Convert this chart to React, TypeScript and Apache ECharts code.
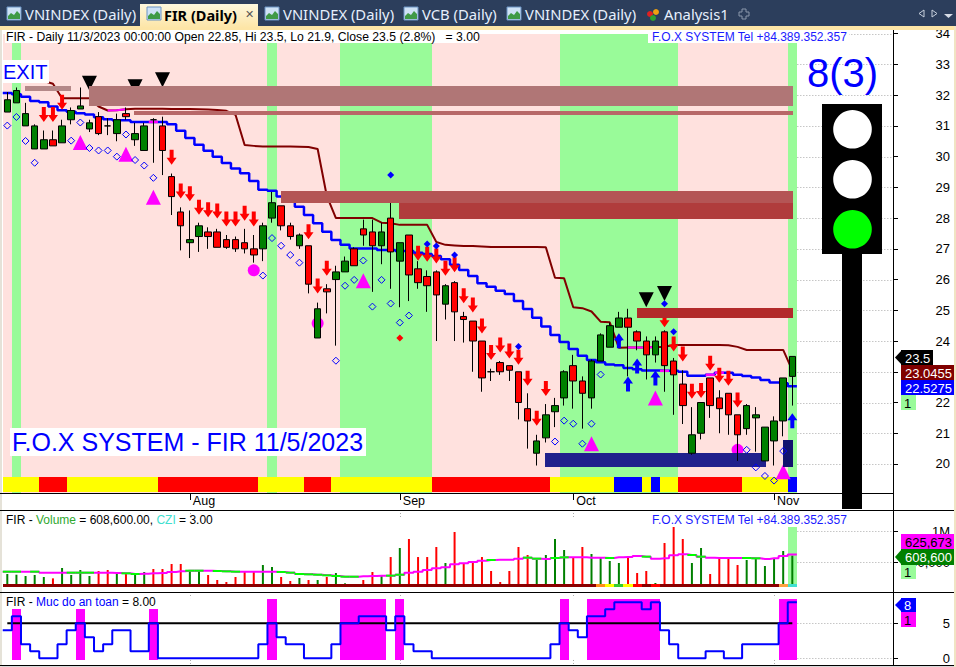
import React, { useEffect, useRef } from "react";
import * as echarts from "echarts";

const FONT = '"Liberation Sans", Arial, sans-serif';
const TAB_FONT = '"Noto Sans", sans-serif';

// [open, close, low, high]
const candles: number[][] = [
  [31.45,31.85,31.45,32.1],[31.75,32.15,31.75,32.25],[31,31.4,31,31.75],[30.25,31,30.25,31.05],[30.25,30.55,30.25,30.85],
  [30.55,30.35,30.35,30.85],[30.45,31,30.45,31.2],[31.2,31.5,31.05,31.6],[31.55,31.65,31.55,32.25],[30.9,31.1,30.8,31.2],
  [31.3,30.75,30.7,31.45],[31,31,30.7,31.25],[30.75,31.2,30.5,31.4],[31.4,31.3,31.2,31.6],[30.55,30.75,30.35,31.1],
  [30.2,31,30.2,31.1],[31.2,31.2,29.8,31.25],[31,30.2,29.4,31.3],[29.35,28.7,28.1,29.45],[28.2,27.75,26.95,28.35],
  [27.2,27.3,26.7,28.25],[27.4,27.75,26.9,27.85],[27.55,27.4,27,27.7],[27.55,27.05,27.05,27.65],[27.3,27.05,27,27.45],
  [27.3,27,26.9,27.4],[27.2,27,26.85,27.65],[27,26.8,26.55,27.45],[27,27.75,26.6,27.85],[28,28.5,27.85,28.85],
  [28.4,27.75,27.6,28.4],[27.75,27.4,27.3,27.85],[27.1,27.45,27,27.5],[27.1,25.85,25.55,27.1],[24.1,25.05,24.1,25.25],
  [25.7,25.6,24.9,25.85],[26,26.25,23.85,26.45],[26.25,26.6,26.25,26.75],[27,26.45,26.45,27.05],[27.65,27.45,27.1,27.95],
  [27.55,27.1,25.6,27.95],[27.1,27.55,26.5,27.85],[28,26.9,25.7,28.55],[26.6,27.2,25.1,27.2],[27.45,26.15,25.3,27.45],
  [26.35,25.9,25.7,26.6],[26.1,25.8,24.95,26.3],[26.25,25.5,24,26.3],[25.2,25.8,24.7,25.85],[25.9,24.95,24,25.95],
  [24.8,24.7,23.95,24.95],[24.65,24,23,24.65],[24,22.8,22.35,24],[23,23,22.7,23.1],[23.3,23,22.9,23.35],
  [23.2,23.05,22.7,23.2],[23,22,21.45,23],[21.8,21.4,20.5,22.3],[20.35,20.75,19.95,20.95],[20.85,21.6,20.7,21.95],
  [21.7,21.9,21.2,22.15],[22.15,23,21.9,23.05],[23.2,22.7,21.8,23.55],[22.7,22.3,21.15,22.85],[22.15,23.35,21.8,23.4],
  [23.35,24.2,23.35,24.25],[23.8,24.5,23.8,24.6],[24.45,24.75,24.45,24.95],[24.75,24.45,22.85,25.05],[24.3,24,23.7,24.35],
  [24,23.55,22.75,24.15],[23.55,24,23.3,24.15],[24.3,23.2,22.35,24.35],[23.35,22.9,21.6,23.45],[22.6,21.9,21.3,23.05],
  [20.35,20.95,20.3,21.85],[21,22,20.8,22],[22.8,21.9,21.5,22.8],[22.15,21.8,21,22.4],[22.3,21.6,20.95,22.3],
  [21.6,20.95,20.1,21.6],[21.15,21.9,20.95,21.95],[21.5,21.6,20.4,21.85],[20.1,21.2,20.1,21.2],[20.75,21.4,19.95,21.55],
  [21.4,22.8,20.9,22.8],[22.85,23.5,21.9,23.5],
];

const blueStop = [
  32.07,32.03,31.95,31.81,31.77,31.63,31.51,31.46,31.41,31.37,31.28,31.22,31.18,31.18,31.13,31.13,31.13,31.13,31.05,30.84,
  30.61,30.39,30.19,30,29.79,29.61,29.46,29.21,28.92,28.89,28.7,28.59,28.37,28.1,27.83,27.56,27.29,27.13,27.01,27.01,
  27.01,26.96,26.96,26.93,26.93,26.87,26.83,26.77,26.66,26.48,26.31,26.12,25.88,25.77,25.64,25.53,25.3,25.04,24.76,24.47,
  24.2,23.97,23.74,23.52,23.38,23.31,23.24,23.21,23.12,23.08,23.04,23.04,23.03,23.03,23,22.87,22.87,22.9,22.97,22.97,
  22.9,22.86,22.81,22.73,22.65,22.63,22.5275,
];
const maroonLine = [
  32.46,32.46,32.46,32.46,32.46,32.37,31.9,31.9,31.9,31.9,31.63,31.5,31.51,31.54,31.56,31.56,31.56,31.56,31.55,31.55,
  31.55,31.54,31.53,31.52,31.49,31.36,30.38,30.35,30.33,30.33,30.33,30.33,30.32,30.31,30.25,28.72,28,28,28,28,
  28,27.85,27.83,27.78,27.78,27.78,27.78,27.22,27.13,27.11,27.09,27.09,27.08,27.06,27.06,27.06,27.06,27.06,27.06,27.05,
  26.06,26.04,25.1,25.07,24.96,24.63,24.61,23.78,23.79,23.79,23.79,23.81,23.81,23.87,23.87,23.87,23.87,23.87,23.87,23.86,
  23.81,23.71,23.71,23.71,23.71,23.71,23.0455,
];
const blueHighlightBars = [16, 72, 77, 78];
const maroonHighlightRanges = [[11, 13], [68, 69], [70, 71]];

const greenBandRanges = [[1, 1], [29, 29], [37, 46], [61, 73], [86, 86]];
const stripRuns: [string, number, number][] = [
  ["#ffff00",0,3],["#ff0000",4,6],["#ffff00",7,16],["#ff0000",17,27],["#ffff00",28,32],["#ff0000",33,35],["#ffff00",36,46],
  ["#ff0000",47,59],["#ffff00",60,66],["#0000ff",67,69],["#ffff00",70,70],["#0000ff",71,71],["#ffff00",72,73],["#ff0000",74,80],
  ["#ffff00",81,85],["#0000ff",86,86],
];

const hollowDiamonds = [
  [0,31.01],[1,31.29],[2,30.51],[3,29.8],[7,30.52],[8,31.11],[9,30.28],[10,30.2],[11,30.2],[12,30],[13,30.72],[14,29.89],[15,29.71],[16,29.31],
  [28,26.13],[29,27.35],[30,27.1],[31,26.8],[32,26.55],[36,23.36],[37,25.8],[38,25.99],[39,26.62],[40,25.12],[41,25.99],[42,25.22],[43,24.6],[44,24.83],
  [60,20.73],[61,21.41],[62,21.31],[63,20.66],[64,21.31],[65,22.91],[81,20.46],[82,19.89],[83,19.61],[84,19.46],[85,20.42],
];
const solidBlueDiamonds = [[42,29.4],[46,27.16],[47,27.09],[49,26.8],[56,23.82],[67,24.04],[72,25.21],[73,24.3]];
const solidRedDiamonds = [[43,24.1]];
const redDownArrows = [
  [4,31.37],[5,31.37],[6,31.77],[18,29.98],[19,28.88],[20,28.79],[21,28.35],[22,28.27],[23,28.23],[24,27.97],[25,27.97],[26,28.16],[27,27.97],
  [33,27.56],[34,25.79],[35,26.37],[45,26.86],[46,26.82],[47,26.77],[48,26.37],[49,26.48],[50,25.47],[51,25.17],[52,24.49],[53,23.63],[54,23.87],
  [55,23.68],[56,23.47],[57,22.79],[58,21.49],[59,22.46],[72,24.69],[73,23.9],[74,23.58],[75,22.37],[76,22.39],[77,23.28],[78,22.89],[79,22.79],[80,22.08],
];
const blueUpArrows = [[67,24.01],[68,22.6],[69,23.19],[71,22.8],[86,21.41]];
const magentaTriangles = [[8,30.46],[13,30.08],[16,28.68],[39,25.96],[64,20.66],[71,22.15],[85,19.75]];
const magentaCircles = [[27,26.3],[34,24.58],[80,20.46]];
const blackTriangles = [[9,32.39],[14,32.27],[17,32.5],[70,25.34],[72,25.55]];

// [firstBar, lastBar, priceTop, priceBottom]
const upperZones = [
  [1.94,6.95,32.3,32.15],[8.95,86.1,32.3,31.65],[13.88,86.1,31.49,31.36],[42.9,86.1,28.59,27.97],[30,86.1,28.88,28.49],[68.95,86.1,25.08,24.75],
];
const upperZoneColors = ["#b48888","#b07676","#b86868","#b03c3c","#b45555","#b22a2a"];
const lowerZones = [[58.9,83.1,20.37,19.91],[84.98,86.1,20.78,19.91]];
const lowerZoneColors = ["#20208c","#12126e"];

const priceTicks = [20,21,22,23,24,25,26,27,28,29,30,31,32,33,34];
const priceLabels = [20,21,22,24,25,26,27,28,29,30,31,32,33,34];
const monthTicks = [20,43,62,84];
const monthNames = ["Aug","Sep","Oct","Nov"];

const volumes = [
  311,300,279,295,263,241,408,295,376,279,360,376,327,311,311,344,392,392,473,473,360,360,295,215,182,263,360,344,456,424,
  263,198,247,215,215,263,327,161,134,215,344,279,585,731,876,585,585,747,489,989,473,505,585,360,182,360,747,618,542,618,
  876,698,575,747,634,569,521,489,602,327,360,166,811,1069,876,489,731,311,569,553,456,537,569,440,553,682,608.6,
];
const volumeMA = [
  349,349,349,349,333,333,333,333,333,333,333,333,327,322,311,316,322,327,344,354,365,365,365,360,354,349,349,349,349,349,
  344,333,311,306,300,290,279,268,268,274,279,285,285,300,333,349,376,403,419,467,484,505,526,537,542,542,559,575,559,553,
  569,580,580,580,575,575,569,580,586,602,591,559,564,612,629,618,591,575,569,569,569,569,564,553,564,602,625.673,
];
const volumeMAGreenBars = [0,1,3,7,8,9,13,14,20,21,23,24,25,30,31,32,33,34,35,36,37,38,42,43,53,57,58,60,61,66,70,75,76,81,82];
const stripVolumeSpecial: [number,string][] = [[65,"#ff8c1a"],[66,"#ffff00"],[67,"#33cc33"],[68,"#ffff00"],[69,"#ff0000"],[71,"#ff0000"],[85,"#ffa040"],[86,"#40e0d0"]];
const volumeTicks = [500000, 1000000];

const safety = [
  4,6,2,1,0,0,2,4,5,3,1,2,4,4,1,1,5,0,0,0,0,0,0,0,0,0,0,0,2,5,3,2,2,0,0,0,2,5,5,6,6,6,4,6,2,1,1,0,0,0,0,0,0,0,0,0,0,0,0,0,
  2,5,4,3,6,6,7,8,8,8,7,8,4,2,0,0,0,1,1,0,0,2,2,2,2,5,8,
];
const safetyBlocks = [
  [1,1,7.05],[8,8,7.05],[16,16,7.05],[29,29,8.48],[37,41,8.48],[43,43,8.48],[61,61,8.48],[64,71,8.48],[85,86,8.48],
];
const safetyTicks = [0,5];
const safetyThreshold = 5;

const headerText = "FIR - Daily 11/3/2023 00:00:00 Open 22.85, Hi 23.5, Lo 21.9, Close 23.5 (2.8%)   = 3.00";
const foxText = "F.O.X SYSTEM Tel +84.389.352.357";
const titleText = "F.O.X SYSTEM - FIR 11/5/2023";

const X_MIN = -0.471, X_MAX = 97.03, LAST = candles.length - 1;

function fromRanges(ranges: number[][]) {
  const out: number[] = [];
  ranges.forEach(([a, b]) => { for (let i = a; i <= b; i++) out.push(i); });
  return out;
}
function rectItem(api: any, x0: number, x1: number, p0: number, p1: number, fill: string) {
  const a = api.coord([x0, p0]), b = api.coord([x1, p1]);
  const x = Math.round(a[0]), y = Math.round(a[1]);
  return { type: "rect", shape: { x, y, width: Math.round(b[0]) - x, height: Math.round(b[1]) - y }, style: { fill } };
}
function rectSeries(idx: number, z: number, rows: number[][], colors: (i: number) => string) {
  return {
    type: "custom", xAxisIndex: idx, yAxisIndex: idx, z, clip: false, silent: true, data: rows,
    renderItem: (p: any, api: any) => rectItem(api, api.value(0), api.value(1), api.value(2), api.value(3), colors(p.dataIndex)),
  };
}
function segmentSeries(idx: number, z: number, rows: number[][], color: string, width: number) {
  return {
    type: "custom", xAxisIndex: idx, yAxisIndex: idx, z, clip: false, silent: true, data: rows,
    renderItem: (_: any, api: any) => {
      const a = api.coord([api.value(0) - 0.5, api.value(1)]), b = api.coord([api.value(0) + 0.5, api.value(1)]);
      return { type: "line", shape: { x1: a[0], y1: a[1], x2: b[0], y2: b[1] }, style: { stroke: color, lineWidth: width } };
    },
  };
}
function gridDots(idx: number, ticks: number[]) {
  return {
    type: "custom", xAxisIndex: idx, yAxisIndex: idx, z: 0, clip: false, silent: true, data: ticks.map((t) => [LAST, t]),
    renderItem: (_: any, api: any) => {
      const a = api.coord([LAST + 0.55, api.value(1)]), b = api.coord([X_MAX, api.value(1)]);
      const y = Math.round(a[1]) + 0.5;
      return { type: "line", shape: { x1: a[0], y1: y, x2: b[0], y2: y }, style: { stroke: "#aaaaaa", lineWidth: 1, lineDash: [1, 2] } };
    },
  };
}
// short dotted stubs of the month gridlines that show at the pane edges
function monthStubs(idx: number, top: number, bottom: number) {
  return {
    type: "custom", xAxisIndex: idx, yAxisIndex: idx, z: 0, clip: false, silent: true, data: monthTicks.map((m) => [m, top, bottom]),
    renderItem: (_: any, api: any) => {
      const a = api.coord([api.value(0), api.value(1)]), b = api.coord([api.value(0), api.value(2)]);
      const x = Math.round(a[0]) + 0.5;
      return { type: "line", shape: { x1: x, y1: a[1], x2: x, y2: b[1] }, style: { stroke: "#aaaaaa", lineWidth: 1, lineDash: [1, 2] } };
    },
  };
}
function stepData(v: number[]) {
  return [[-0.5, v[0]], ...v.map((y, i) => [i, y]), [LAST + 0.5, v[LAST]]];
}
function xAxis(gridIndex: number, show: boolean) {
  return {
    type: "value", gridIndex, min: X_MIN, max: X_MAX, show, splitLine: { show: false },
    axisLine: { show: true, onZero: false, lineStyle: { color: "#000", width: 1 } },
    axisTick: { show: true, length: 7, customValues: monthTicks, lineStyle: { color: "#000" } },
    axisLabel: {
      customValues: monthTicks, align: "left", margin: 1, padding: [0, 0, 0, 3], color: "#000", fontFamily: FONT, fontSize: 12.5,
      formatter: (v: number) => monthNames[monthTicks.indexOf(v)] ?? "",
    },
  };
}
function yAxis(gridIndex: number, min: number, max: number, ticks: number[], labels: number[], fmt: (v: number) => string) {
  return {
    type: "value", gridIndex, position: "right", min, max, scale: true, splitLine: { show: false },
    axisLine: { show: true, onZero: false, lineStyle: { color: "#000", width: 1 } },
    axisTick: { show: true, length: 5, customValues: ticks, lineStyle: { color: "#000" } },
    axisLabel: { customValues: labels, align: "right", margin: 57, color: "#000", fontFamily: FONT, fontSize: 13, formatter: fmt },
  };
}
function label(x: number, y: number, text: any, extra: any = {}) {
  return {
    type: "text", x, y, z: 100,
    style: { text, fill: "#000", fontFamily: FONT, fontSize: 12, textVerticalAlign: "middle", ...extra },
  };
}
function box(x: number, y: number, width: number, height: number, fill: string) {
  return { type: "rect", z: 99, shape: { x, y, width, height }, style: { fill } };
}
function badge(y: number, h: number, fill: string, text: string, color: string, arrow: boolean, right = 954) {
  const els: any[] = [box(901, y, right - 901, h, fill)];
  if (arrow) els.push({ type: "polygon", z: 99, shape: { points: [[895, y + h / 2], [902, y], [902, y + h]] }, style: { fill } });
  els.push(label(right < 920 ? 904 : 905, y + h / 2 + 0.5, text, { fill: color, fontSize: 13 }));
  return els;
}
function chartIcon(x: number) {
  return [
    { type: "rect", z: 99, shape: { x, y: 7, width: 14, height: 13 }, style: { fill: "#cfe2f6", stroke: "#6a93c4", lineWidth: 1 } },
    { type: "polygon", z: 99, shape: { points: [[x + 1, 19], [x + 1, 16], [x + 4, 13], [x + 7, 15], [x + 10, 11], [x + 13, 14], [x + 13, 19]] }, style: { fill: "#3f9a46" } },
  ];
}
function tab(x: number, text: string) {
  return label(x, 14, text, { fill: "#e6effc", fontFamily: TAB_FONT, fontSize: 14.8 });
}

export default function App() {
  const ref = useRef<HTMLDivElement>(null);
  useEffect(() => {
    document.body.style.margin = "0";
    const chart = echarts.init(ref.current!, undefined, { renderer: "svg" });
    const greenBars = new Set(fromRanges(greenBandRanges));
    const allBars = candles.map((_, i) => i);
    const stripColor = (i: number) => stripRuns.find((r) => i >= r[1] && i <= r[2])![0];
    const upColor = (i: number) => (candles[i][1] > candles[i][0] ? "#008000" : "#ff0000");
    const volSpecial = new Map(stripVolumeSpecial);
    const maxVol = Math.max(...volumes) * 1000;

    const graphicEls: any[] = [
      box(0, 0, 956, 26, "#2c3e5c"),
      box(0, 26, 956, 4, "#fde5a6"),
      { type: "rect", z: 99, shape: { x: 140, y: 4, width: 118, height: 24 }, style: { fill: new echarts.graphic.LinearGradient(0, 0, 0, 1, [{ offset: 0, color: "#fdf7dd" }, { offset: 1, color: "#fde5a6" }]) } },
      ...chartIcon(7), ...chartIcon(147), ...chartIcon(265), ...chartIcon(404), ...chartIcon(507),
      tab(25, "VNINDEX (Daily)"),
      label(164, 15, "FIR (Daily)", { fill: "#000", fontFamily: TAB_FONT, fontSize: 14.5, fontWeight: "bold" }),
      label(245, 14, "✕", { fill: "#555", fontSize: 11 }),
      tab(283, "VNINDEX (Daily)"), tab(422, "VCB (Daily)"), tab(525, "VNINDEX (Daily)"), tab(664, "Analysis1"),
      { type: "circle", z: 99, shape: { cx: 650, cy: 14, r: 3 }, style: { fill: "#e02020" } },
      { type: "circle", z: 99, shape: { cx: 656, cy: 12, r: 3 }, style: { fill: "#f0a010" } },
      { type: "circle", z: 99, shape: { cx: 653, cy: 18, r: 3 }, style: { fill: "#30a030" } },
      { type: "polygon", z: 99, shape: { points: [[739, 12], [742, 12], [742, 9], [746, 9], [746, 12], [749, 12], [749, 16], [746, 16], [746, 19], [742, 19], [742, 16], [739, 16]] }, style: { fill: "none", stroke: "#8a97ab", lineWidth: 1 } },
      { type: "polygon", z: 99, shape: { points: [[924, 10], [924, 17], [919, 13.5]] }, style: { fill: "none", stroke: "#c6cfdc", lineWidth: 1 } },
      { type: "polygon", z: 99, shape: { points: [[932, 10], [932, 17], [937, 13.5]] }, style: { fill: "none", stroke: "#c6cfdc", lineWidth: 1 } },
      { type: "polygon", z: 99, shape: { points: [[944, 14], [953, 14], [948.5, 18]] }, style: { fill: "#d6dce6" } },
      // frames
      box(0, 30, 2, 637, "#e5e2d8"),
      box(954, 26, 2, 641, "#f0e4c4"),
      box(893, 30, 1, 636, "#000"),
      box(0, 493, 893, 1, "#000"),
      box(0, 510, 954, 1, "#000"),
      box(0, 592, 954, 1, "#000"),
      box(0, 665, 954, 1, "#000"),
      box(2, 666, 952, 1, "#d8d8d8"),
      // header labels
      box(5, 30, 473, 13, "#fff"),
      label(6, 37, headerText, { fontSize: 12.2 }),
      box(648, 30, 201, 13, "#fff"),
      label(652, 37, foxText, { fill: "#1a1aff" }),
      box(3, 60, 46, 23, "#fff"),
      label(3, 72, "EXIT", { fill: "#0000ff", fontSize: 20 }),
      box(10, 428, 356, 28, "#fff"),
      label(12, 442, titleText, { fill: "#0000ff", fontSize: 25 }),
      // traffic light
      label(807, 73, "8(3)", { fill: "#0000ff", fontSize: 40 }),
      box(842, 254, 20, 255, "#000"),
      box(822, 104, 60, 150, "#000"),
      { type: "circle", z: 100, shape: { cx: 852.5, cy: 129.3, r: 19.3 }, style: { fill: "#fff" } },
      { type: "circle", z: 100, shape: { cx: 852.5, cy: 179.3, r: 19.3 }, style: { fill: "#fff" } },
      { type: "circle", z: 100, shape: { cx: 852.5, cy: 229.3, r: 19.3 }, style: { fill: "#00ff00" } },
      // price badges
      box(901, 350, 32, 15, "#000"),
      { type: "polygon", z: 99, shape: { points: [[895, 357.5], [902, 350], [902, 365]] }, style: { fill: "#000" } },
      label(905, 358, String(candles[LAST][1]), { fill: "#fff", fontSize: 13 }),
      ...badge(365, 15, "#800000", String(maroonLine[LAST]), "#fff", false),
      ...badge(380, 15, "#0000ff", String(blueStop[LAST]), "#fff", false),
      ...badge(395, 15, "#99fb99", "1", "#000", false, 916),
      // volume pane
      label(6, 520, "FIR - {g|Volume} = 608,600.00, {c|CZI} = 3.00", { rich: { g: { fill: "#2fa82f", fontFamily: FONT, fontSize: 12 }, c: { fill: "#40e0d0", fontFamily: FONT, fontSize: 12 } } }),
      label(652, 520, foxText, { fill: "#1a1aff" }),
      ...badge(534, 15, "#ff00ff", "625,673", "#000", false),
      ...badge(549, 16, "#008000", "608,600", "#fff", true),
      ...badge(565, 14, "#99fb99", "1", "#000", false, 916),
      // safety pane
      label(6, 602, "FIR - {b|Muc do an toan} = 8.00", { rich: { b: { fill: "#0000ff", fontFamily: FONT, fontSize: 12 } } }),
      ...badge(598, 14, "#0000ff", "8", "#fff", true, 916),
      ...badge(612, 15, "#ff00ff", "1", "#000", false, 916),
    ];

    const solid = (color: string) => ({ color, opacity: 1 });

    chart.setOption({
      animation: false,
      backgroundColor: "#fff",
      tooltip: { show: false },
      grid: [
        { left: 3, width: 890, top: 30, height: 463 },
        { left: 3, width: 890, top: 510, height: 77 },
        { left: 3, width: 890, top: 592, height: 73 },
      ],
      xAxis: [xAxis(0, true), xAxis(1, false), xAxis(2, false)],
      yAxis: [
        yAxis(0, 19.056, 34.12, priceTicks, priceLabels, (v) => String(v)),
        yAxis(1, 101600, 1343500, volumeTicks, volumeTicks, (v) => (v >= 1e6 ? "1M" : "500,000")),
        yAxis(2, -0.957, 9.47, safetyTicks, safetyTicks, (v) => String(v)),
      ],
      graphic: { elements: graphicEls },
      series: [
        // main pane
        gridDots(0, priceTicks),
        rectSeries(0, 1, allBars.map((i) => [i - 0.5, i + 0.5, 34, 19.056]), (i) => (greenBars.has(i) ? "#99fb99" : "#ffe1de")),
        rectSeries(0, 1.5, allBars.map((i) => [i - 0.5, i + 0.5, 19.58, 19.1]), stripColor),
        {
          type: "line", xAxisIndex: 0, yAxisIndex: 0, z: 2, symbol: "none", data: maroonLine.map((v, i) => [i, v]),
          lineStyle: { color: "#800000", width: 2 },
        },
        {
          type: "line", xAxisIndex: 0, yAxisIndex: 0, z: 2.05, symbol: "none",
          data: maroonLine.map((v, i) => [i, maroonHighlightRanges.some((r) => i >= r[0] && i <= r[1]) ? v : null]),
          lineStyle: { color: "#ff00ff", width: 2 },
        },
        {
          type: "line", xAxisIndex: 0, yAxisIndex: 0, z: 2, step: "middle", symbol: "none", data: stepData(blueStop),
          lineStyle: { color: "#0000ff", width: 2.5 },
        },
        segmentSeries(0, 2.05, blueHighlightBars.map((i) => [i, blueStop[i]]), "#ff00ff", 2.5),
        { type: "scatter", xAxisIndex: 0, yAxisIndex: 0, z: 2.2, symbol: "circle", symbolSize: 12, data: magentaCircles, itemStyle: solid("#ff00ff") },
        { type: "scatter", xAxisIndex: 0, yAxisIndex: 0, z: 2.2, symbol: "triangle", symbolSize: [15, 15], data: magentaTriangles, itemStyle: solid("#ff00ff") },
        { type: "scatter", xAxisIndex: 0, yAxisIndex: 0, z: 2.2, symbol: "triangle", symbolRotate: 180, symbolSize: [15, 15], data: blackTriangles, itemStyle: solid("#000") },
        rectSeries(0, 2.5, lowerZones, (i) => lowerZoneColors[i]),
        {
          type: "candlestick", xAxisIndex: 0, yAxisIndex: 0, z: 3, barWidth: 7, data: candles.map((c, i) => [i, ...c]),
          itemStyle: { color: "#008000", color0: "#ff0000", borderColor: "#000", borderColor0: "#000", borderWidth: 1 },
        },
        {
          type: "scatter", xAxisIndex: 0, yAxisIndex: 0, z: 4, symbol: "path://M3,0 H7 V8 H10 L5,15 L0,8 H3 Z", symbolSize: [10, 15], data: redDownArrows,
          itemStyle: solid("#ff0000"),
        },
        {
          type: "scatter", xAxisIndex: 0, yAxisIndex: 0, z: 4, symbol: "path://M3,15 H7 V7 H10 L5,0 L0,7 H3 Z", symbolSize: [10, 15], data: blueUpArrows,
          itemStyle: solid("#0000ff"),
        },
        {
          type: "scatter", xAxisIndex: 0, yAxisIndex: 0, z: 4, symbol: "diamond", symbolSize: 7, data: hollowDiamonds,
          itemStyle: { color: "transparent", borderColor: "#0000ff", borderWidth: 1, opacity: 1 },
        },
        { type: "scatter", xAxisIndex: 0, yAxisIndex: 0, z: 4, symbol: "diamond", symbolSize: 7, data: solidBlueDiamonds, itemStyle: solid("#0000ff") },
        { type: "scatter", xAxisIndex: 0, yAxisIndex: 0, z: 4, symbol: "diamond", symbolSize: 7, data: solidRedDiamonds, itemStyle: solid("#ff0000") },
        rectSeries(0, 5, upperZones, (i) => upperZoneColors[i]),
        // volume pane
        gridDots(1, volumeTicks),
        monthStubs(1, 1343500, 1230000),
        rectSeries(1, 1, [[LAST - 0.5, LAST + 0.5, maxVol, 101600]], () => "#99fb99"),
        {
          type: "bar", xAxisIndex: 1, yAxisIndex: 1, z: 2, barWidth: 2,
          data: volumes.map((v, i) => ({ value: [i, v * 1000], itemStyle: { color: upColor(i) } })),
        },
        {
          type: "line", xAxisIndex: 1, yAxisIndex: 1, z: 3, step: "middle", symbol: "none", data: stepData(volumeMA.map((v) => v * 1000)),
          lineStyle: { color: "#ff00ff", width: 2 },
        },
        segmentSeries(1, 3.1, volumeMAGreenBars.map((i) => [i, volumeMA[i] * 1000]), "#00ff00", 2),
        rectSeries(1, 4, allBars.map((i) => [i - 0.5, i + 0.5, 150000, 101600]), (i) => volSpecial.get(i) ?? "#8b0000"),
        // safety pane
        gridDots(2, safetyTicks),
        monthStubs(2, 9.47, 8.6),
        monthStubs(2, -0.24, -0.957),
        rectSeries(2, 1, safetyBlocks.map((b) => [b[0] - 0.5, b[1] + 0.5, b[2], -0.24]), () => "#ff00ff"),
        {
          type: "line", xAxisIndex: 2, yAxisIndex: 2, z: 2, symbol: "none", data: allBars.map((i) => [i, safetyThreshold]),
          lineStyle: { color: "#000", width: 2 },
        },
        {
          type: "line", xAxisIndex: 2, yAxisIndex: 2, z: 3, step: "middle", symbol: "none", data: stepData(safety),
          lineStyle: { color: "#0000ff", width: 2 },
        },
      ],
    });
    return () => chart.dispose();
  }, []);
  return <div ref={ref} style={{ position: "fixed", left: 0, top: 0, width: 956, height: 667 }} />;
}
